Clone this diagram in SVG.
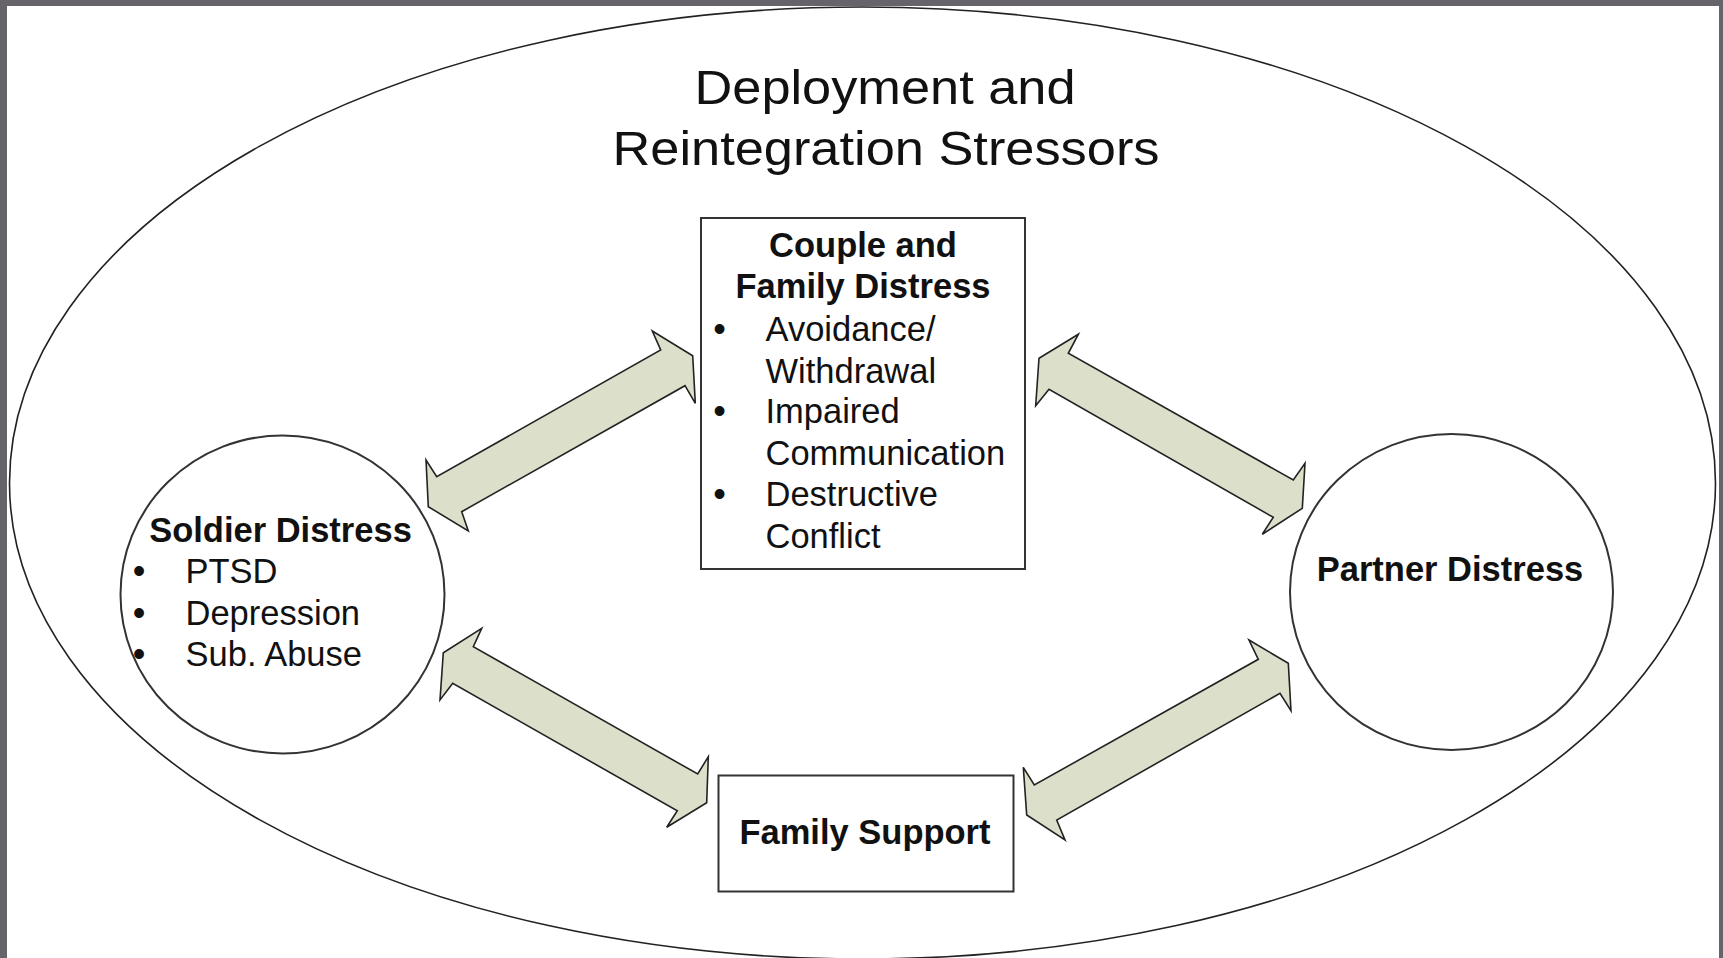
<svg xmlns="http://www.w3.org/2000/svg" width="1723" height="958" viewBox="0 0 1723 958">
<style>
.frame{fill:#66636b}
.outline{fill:none;stroke:#222;stroke-width:1.6}
.node{fill:#fff;stroke:#333;stroke-width:2}
.arrow{fill:#dce0ca;stroke:#222;stroke-width:1.6;stroke-linejoin:miter}
.t{font-family:"Liberation Sans",Arial,sans-serif;fill:#111}
.title{font-size:48px}
.h{font-size:34.5px;font-weight:bold;text-anchor:middle}
.b{font-size:34.5px}
.bul{font-size:36px;text-anchor:middle}
</style>
<rect x="0" y="0" width="1723" height="958" fill="#fff"/>
<g id="stressors">
<ellipse class="outline" cx="862.5" cy="483" rx="853" ry="476"/>
<text class="t title" x="885" y="104" text-anchor="middle" textLength="381" lengthAdjust="spacingAndGlyphs">Deployment and</text>
<text class="t title" x="886" y="165" text-anchor="middle" textLength="547" lengthAdjust="spacingAndGlyphs">Reintegration Stressors</text>
</g>
<g id="connectors">
<polygon class="arrow" points="652.3,331 692.7,355.7 695.3,403.3 685,385.7 461.7,511.7 468.3,531 428.3,506.7 426,460 436.7,476.7 660.7,350"/>
<polygon class="arrow" points="1078.3,334.3 1068.3,353.3 1293.3,480 1305,463.3 1302.3,508.3 1262.3,534.3 1273.3,517.3 1049,389.3 1035.7,405.7 1039,358.3"/>
<polygon class="arrow" points="481.7,628.3 473.3,646.7 697.7,774 708.3,756.7 706.7,802.7 666.7,827.3 677.3,810.7 452.7,683.3 440,700 443.3,652.7"/>
<polygon class="arrow" points="1249,640 1288.3,663.3 1291,710.7 1280,693.3 1056.7,820 1065,840 1026.7,815 1023.3,767.3 1034.3,785 1258.3,659.3"/>
</g>
<g id="couple">
<rect class="node" x="701" y="218" width="324" height="351"/>
<text class="t h" x="863" y="257">Couple and</text>
<text class="t h" x="863" y="298">Family Distress</text>
<text class="t bul" x="719.5" y="341">•</text>
<text class="t b" x="765.5" y="341">Avoidance/</text>
<text class="t b" x="765.5" y="382.5">Withdrawal</text>
<text class="t bul" x="719.5" y="423">•</text>
<text class="t b" x="765.5" y="423">Impaired</text>
<text class="t b" x="765.5" y="464.5">Communication</text>
<text class="t bul" x="719.5" y="506">•</text>
<text class="t b" x="765.5" y="506">Destructive</text>
<text class="t b" x="765.5" y="547.5">Conflict</text>
</g>
<g id="soldier">
<ellipse class="node" cx="282.5" cy="594.5" rx="162" ry="159"/>
<text class="t h" x="280.5" y="541.5">Soldier Distress</text>
<text class="t bul" x="139" y="583">•</text>
<text class="t b" x="185.5" y="583">PTSD</text>
<text class="t bul" x="139" y="624.5">•</text>
<text class="t b" x="185.5" y="624.5">Depression</text>
<text class="t bul" x="139" y="666">•</text>
<text class="t b" x="185.5" y="666">Sub. Abuse</text>
</g>
<g id="partner">
<ellipse class="node" cx="1451.5" cy="592" rx="161.5" ry="158"/>
<text class="t h" x="1450" y="580.5">Partner Distress</text>
</g>
<g id="support">
<rect class="node" x="718.5" y="775.5" width="295" height="116"/>
<text class="t h" x="865" y="843.5">Family Support</text>
</g>
<rect class="frame" x="0" y="0" width="1723" height="6"/>
<rect class="frame" x="0" y="0" width="7" height="958"/>
<rect class="frame" x="1719" y="0" width="4" height="958"/>
</svg>
